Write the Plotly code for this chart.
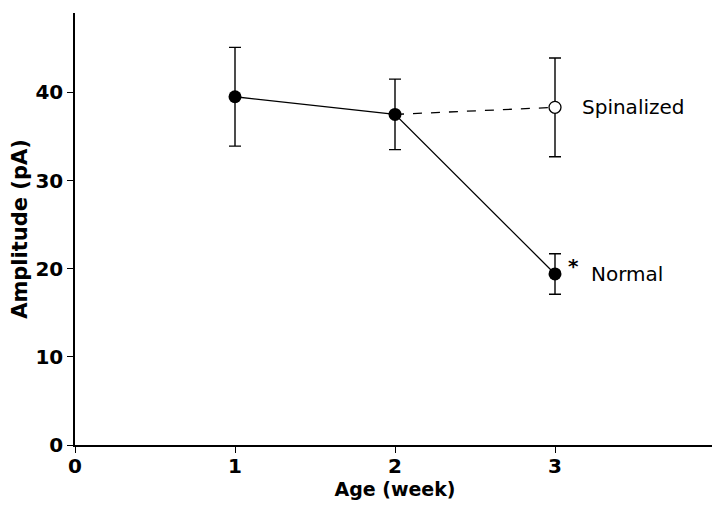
import plotly.graph_objects as go

weeks = [1, 2, 3]
normal_mean = [39.5, 37.5, 19.4]
normal_err = [5.6, 4.0, 2.3]
spinal_weeks = [2, 3]
spinal_mean = [37.5, 38.3]
spinal_err_week3 = 5.6

FONT = "DejaVu Sans"

fig = go.Figure()

# Spinalized dashed line (from week 2 to week 3)
fig.add_trace(go.Scatter(
    x=spinal_weeks, y=spinal_mean, mode="lines",
    line=dict(color="black", width=1.3, dash="dash"),
    showlegend=False, hoverinfo="skip"))

# Normal line with markers and error bars
fig.add_trace(go.Scatter(
    x=weeks, y=normal_mean, mode="lines+markers",
    line=dict(color="black", width=1.3),
    marker=dict(color="black", size=13, symbol="circle"),
    error_y=dict(type="data", array=normal_err, visible=True,
                 color="black", thickness=1.4, width=6),
    showlegend=False))

# Spinalized week 3 open marker with error bar
fig.add_trace(go.Scatter(
    x=spinal_weeks[1:], y=spinal_mean[1:], mode="markers",
    marker=dict(color="white", size=12, symbol="circle",
                line=dict(color="black", width=1.3)),
    error_y=dict(type="data", array=[spinal_err_week3], visible=True,
                 color="black", thickness=1.4, width=6),
    showlegend=False))

fig.add_annotation(x=3, y=spinal_mean[1], xref="x", yref="y",
                   text="Spinalized", showarrow=False, xanchor="left",
                   xshift=25, font=dict(family=FONT, size=20, color="black"))
fig.add_annotation(x=3, y=normal_mean[2], xref="x", yref="y",
                   text="Normal", showarrow=False, xanchor="left",
                   xshift=34, font=dict(family=FONT, size=20, color="black"))
fig.add_annotation(x=3, y=normal_mean[2], xref="x", yref="y",
                   text="*", showarrow=False, xanchor="left",
                   xshift=11, yshift=8,
                   font=dict(family=FONT, size=20, color="black", weight="bold"))

fig.update_xaxes(
    range=[0, 4.0], tickvals=[0, 1, 2, 3], ticktext=["0", "1", "2", "3"],
    showgrid=False, zeroline=False, showline=True, linecolor="black",
    linewidth=1.5, ticks="outside", ticklen=6, tickwidth=1.3, tickcolor="black",
    automargin=False, ticklabelstandoff=-4,
    tickfont=dict(family=FONT, size=20, color="black", weight="bold"),
    title=dict(text="Age (week)", standoff=0,
               font=dict(family=FONT, size=19, color="black", weight="bold")))
fig.update_yaxes(
    range=[0, 49], tickvals=[0, 10, 20, 30, 40],
    showgrid=False, zeroline=False, showline=True, linecolor="black",
    linewidth=1.5, ticks="outside", ticklen=6, tickwidth=1.3, tickcolor="black",
    automargin=False,
    tickfont=dict(family=FONT, size=20, color="black", weight="bold"),
    title=dict(text="Amplitude (pA)", standoff=8,
               font=dict(family=FONT, size=21, color="black", weight="bold")))

fig.update_layout(
    width=712, height=502,
    margin=dict(l=67, r=5, t=5, b=65),
    paper_bgcolor="white", plot_bgcolor="white",
    showlegend=False)

fig.write_html("out.html")
